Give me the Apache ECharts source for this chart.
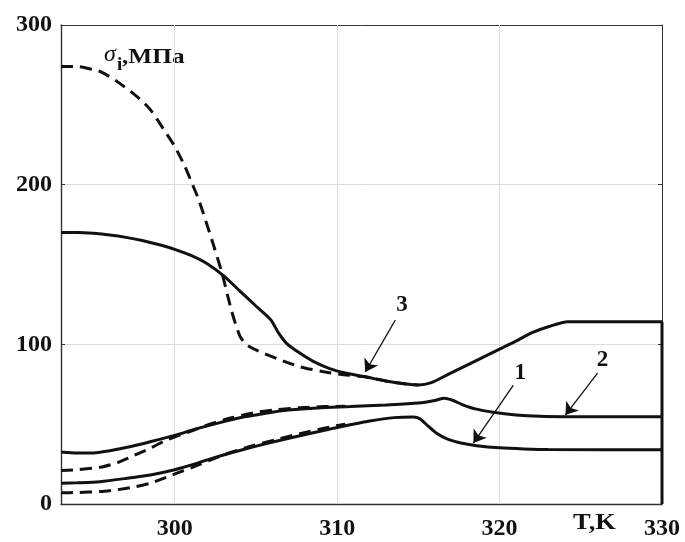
<!DOCTYPE html>
<html>
<head>
<meta charset="utf-8">
<script src="https://cdn.jsdelivr.net/npm/echarts@6/dist/echarts.min.js"></script>
<style>
  html, body { margin: 0; padding: 0; background: #fff; }
  #chart { width: 685px; height: 542px; }
</style>
</head>
<body>
<div id="chart"></div>
<script>
// Temperature axis (K) and stress axis (MPa)
const xMin = 293, xMax = 330;
const xTickValues = [300, 310, 320, 330];
const xInnerTicks = [300, 310, 320];
const yMin = 0, yMax = 300, yStep = 100;

// Curve 1: solid and dashed
const curve1Solid = [[293,13],[294,13.3],[295.4,14],[297,16],[298.5,18.2],[300,21.5],[301.3,25.3],[302.6,29.5],[304,33.5],[305.7,38],[307.3,41.8],[308.8,45.2],[309.8,47.5],[310.8,49.6],[312,52],[313.5,54.1],[314.7,54.5],[315.1,53.3],[315.6,48.8],[316.1,44.5],[316.8,40.6],[317.7,38],[318.6,36.5],[320,35.2],[321.5,34.5],[323,34.1],[330,34]];
const curve1Dashed = [[293,7],[294,7.2],[295.4,7.8],[296.5,9],[297.3,10.3],[298.5,13],[299.5,16.8],[300.3,20],[301.1,23],[302.3,28],[303.5,32.5],[304.8,36.5],[306.2,40.2],[307.7,44],[309.2,47.5],[310.5,50]];

// Curve 2: solid and dashed
const curve2Solid = [[293,32.6],[294,32],[295,32],[296,33.4],[297.3,36],[298.5,39],[300,43],[301.3,47],[302.6,50.5],[304,54],[305.7,57],[307,58.8],[308.8,60.2],[310.8,61],[313,62],[315,63.2],[316,64.8],[316.6,66.3],[317.1,65],[317.7,62.3],[318.5,59.6],[319.6,57.5],[321,55.8],[322.5,54.9],[324,54.7],[330,54.7]];
const curve2Dashed = [[293,21],[294,21.5],[295.4,23],[296.5,26],[297.3,29.5],[298.5,35],[299.5,40],[301.1,46],[302.3,50.5],[303.5,54],[304.8,57],[306.2,59],[307.7,60.3],[309.2,61],[310.5,61.2]];

// Curve 3: solid and dashed
const curve3Solid = [[293,170],[294,170],[295,169.5],[296,168.5],[297,167],[298,165],[299,162.5],[300,159.5],[301,155.7],[302,150.5],[303,143],[304,133.5],[305,124],[305.9,115.5],[306.4,107],[306.9,100.5],[307.7,94.5],[308.5,89.5],[309.5,85],[310.5,82],[311.8,79.5],[313,77],[314,75.5],[315,74.5],[315.8,76],[316.8,81],[318,87],[319,92],[320,97],[321,102],[322,107.3],[323,111],[324.2,114.2],[330,114.2]];
const curve3Dashed = [[293,274],[294,274],[295,272],[295.5,270.5],[296.4,265],[297.7,255],[298.5,247],[299.3,235],[300,224],[300.6,212],[301.1,200],[301.5,190],[302.3,165],[302.9,145],[303.5,121],[304,105.5],[304.4,100],[305.1,96],[306.3,91],[307.7,86],[309.1,83],[310.4,81],[311.8,79.5],[313,77],[314,75.5],[315,74.5]];
const curve3End = [curve3Solid[curve3Solid.length - 1], [330, 0]];

// Callouts: number, text anchor, arrow start, arrow tip
const calloutNames = ['1', '2', '3'];
const calloutText = [[321.28, 82], [326.33, 90.2], [314.0, 124.6]];
const arrowFrom = [[320.85, 74.5], [326.03, 82], [313.58, 115.2]];
const arrowTo = [[318.39, 38.2], [324.05, 55.7], [311.73, 82.7]];

const serif = 'Liberation Serif, Times New Roman, serif';
const ink = '#111';
const frame = '#333';
const dash = [12, 7];

const curveStyle = (type) => ({ color: ink, width: 3, type: type, cap: 'butt' });

function curve(name, data, type) {
  return {
    name: name, type: 'line', data: data, showSymbol: false, smooth: 0.25,
    lineStyle: curveStyle(type), silent: true, animation: false, z: 5
  };
}

const chart = echarts.init(document.getElementById('chart'), null, { renderer: 'canvas' });

const axisCommon = {
  type: 'value',
  axisLine: { show: true, onZero: false, lineStyle: { color: frame, width: 1.4 } },
  axisTick: { show: true, inside: true, length: 4, lineStyle: { color: frame, width: 1 } }
};

chart.setOption({
  animation: false,
  backgroundColor: '#fff',
  grid: { left: 61, right: 23, top: 25, bottom: 38, containLabel: false },
  xAxis: [
    Object.assign({}, axisCommon, {
      min: xMin, max: xMax, position: 'bottom',
      axisTick: { show: true, inside: true, length: 4, customValues: xInnerTicks, lineStyle: { color: frame, width: 1 } },
      axisLabel: { show: true, customValues: xTickValues, margin: 13, fontFamily: serif, fontWeight: 'bold', fontSize: 24, color: ink },
      splitLine: { show: false }
    }),
    Object.assign({}, axisCommon, {
      min: xMin, max: xMax, position: 'top',
      axisLine: { show: true, onZero: false, lineStyle: { color: frame, width: 1 } },
      axisTick: { show: true, inside: true, length: 4, customValues: xInnerTicks, lineStyle: { color: frame, width: 1 } },
      axisLabel: { show: false },
      splitLine: { show: false }
    })
  ],
  yAxis: [
    Object.assign({}, axisCommon, {
      min: yMin, max: yMax, interval: yStep, position: 'left',
      axisLabel: { show: true, margin: 9, fontFamily: serif, fontWeight: 'bold', fontSize: 24, color: ink },
      splitLine: { show: true, lineStyle: { color: '#dcdcdc', width: 1 } }
    }),
    Object.assign({}, axisCommon, {
      min: yMin, max: yMax, interval: yStep, position: 'right',
      axisLine: { show: true, onZero: false, lineStyle: { color: frame, width: 1 } },
      axisLabel: { show: false },
      splitLine: { show: false }
    })
  ],
  graphic: [
    { type: 'text', x: 104, y: 43, silent: true,
      style: { text: 'σ', font: 'italic 24px ' + serif, fill: ink, verticalAlign: 'top' } },
    { type: 'text', x: 117, y: 56, silent: true,
      style: { text: 'i', font: 'bold 19px ' + serif, fill: ink, verticalAlign: 'top' } },
    { type: 'text', x: 122, y: 46, scaleX: 1.15, silent: true,
      style: { text: ',МПа', font: 'bold 22px ' + serif, fill: ink, verticalAlign: 'top' } },
    { type: 'text', x: 573, y: 512, scaleX: 1.15, silent: true,
      style: { text: 'T,K', font: 'bold 23px ' + serif, fill: ink, verticalAlign: 'top' } }
  ],
  series: [
    {
      name: 'grid-x', type: 'line', data: [], silent: true,
      markLine: {
        silent: true, symbol: ['none', 'none'], label: { show: false }, animation: false,
        lineStyle: { color: '#dcdcdc', width: 1, type: 'solid' },
        data: xInnerTicks.map(v => ({ xAxis: v }))
      }
    },
    curve('1 dashed', curve1Dashed, dash),
    curve('2 dashed', curve2Dashed, dash),
    curve('3 dashed', curve3Dashed, dash),
    curve('1', curve1Solid, 'solid'),
    curve('2', curve2Solid, 'solid'),
    curve('3', curve3Solid, 'solid'),
    {
      name: '3 end', type: 'line', data: curve3End, showSymbol: false, smooth: false,
      lineStyle: curveStyle('solid'), silent: true, z: 5
    },
    {
      // Numbered callouts with leader arrows
      name: 'callouts', type: 'custom', silent: true, z: 6,
      data: calloutNames.map((n, i) => [calloutText[i][0], calloutText[i][1], n]),
      renderItem: (params, api) => {
        const p = api.coord([api.value(0), api.value(1)]);
        return {
          type: 'text', x: p[0], y: p[1],
          style: {
            text: calloutNames[params.dataIndex], font: 'bold 23px ' + serif, fill: ink,
            align: 'center', verticalAlign: 'middle'
          }
        };
      },
      markLine: {
        silent: true, animation: false, symbol: ['none', 'arrow'], symbolSize: 12,
        label: { show: false },
        itemStyle: { color: ink },
        lineStyle: { color: ink, width: 1.3, type: 'solid', opacity: 1 },
        data: arrowFrom.map((p, i) => [{ coord: p }, { coord: arrowTo[i] }])
      }
    }
  ]
});
</script>
</body>
</html>
